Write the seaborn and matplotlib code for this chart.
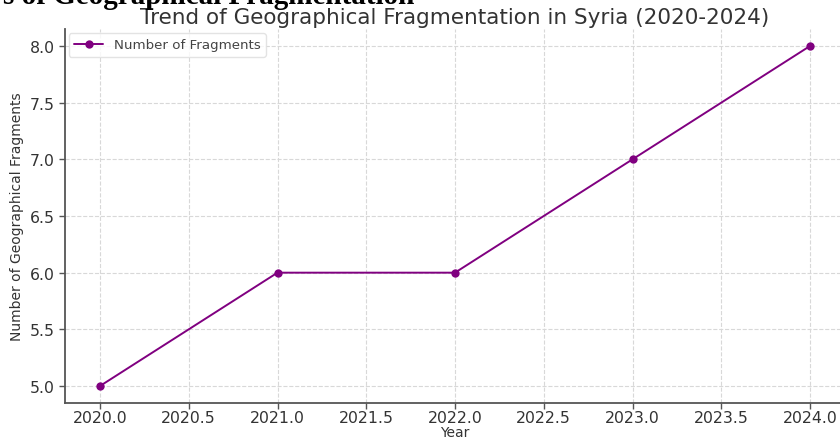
import matplotlib
matplotlib.use('Agg')
import matplotlib.pyplot as plt
import pandas as pd
import seaborn as sns

# Data
years = [2020, 2021, 2022, 2023, 2024]
fragments = [5, 6, 6, 7, 8]
series_label = "Number of Fragments"
title = "Trend of Geographical Fragmentation in Syria (2020-2024)"
header = "s of Geographical Fragmentation"

df = pd.DataFrame({"Year": years, "Fragments": fragments})

sns.set_theme(style="ticks")
plt.rcParams['font.family'] = ['DejaVu Sans']

W, H = 840, 439
fig = plt.figure(figsize=(W / 100, H / 100), dpi=100)
ax = fig.add_axes([64.5 / W, 35 / H, (845.5 - 64.5) / W, (404 - 30) / H])

sns.lineplot(data=df, x="Year", y="Fragments", ax=ax, color="#800080",
             marker="o", markersize=6, markeredgewidth=0, linewidth=1.4,
             label=series_label)

ax.set_xlim(2019.8, 2024.2)
ax.set_ylim(4.85, 8.15)
ax.set_xticks([2020 + 0.5 * i for i in range(9)])
ax.set_yticks([5 + 0.5 * i for i in range(7)])
ax.set_xticklabels([f"{2020 + 0.5 * i:.1f}" for i in range(9)])
ax.set_yticklabels([f"{5 + 0.5 * i:.1f}" for i in range(7)])

ax.grid(True, linestyle="--", color="#d8d8d8", linewidth=0.8)
ax.set_axisbelow(True)
for side in ["top", "right"]:
    ax.spines[side].set_visible(False)
for side in ["left", "bottom"]:
    ax.spines[side].set_color("#555555")
    ax.spines[side].set_linewidth(1.3)
ax.tick_params(axis="both", colors="#555555", labelcolor="#333333",
               labelsize=11.3, length=4, width=1)
ax.tick_params(axis="x", pad=1)
ax.tick_params(axis="y", pad=3)

ax.set_title(title, fontsize=15.5, color="#333333", pad=4)
ax.set_xlabel("Year", fontsize=10, color="#333333", labelpad=0)
ax.set_ylabel("Number of Geographical Fragments", fontsize=10,
              color="#333333", labelpad=4)

leg = ax.legend(loc="upper left", fontsize=9.6, frameon=True,
                borderaxespad=0.3, handlelength=2.2)
leg.get_frame().set_edgecolor("#dddddd")
for t in leg.get_texts():
    t.set_color("#444444")

# cropped page header above the chart
fig.text(414 / W, 1 - 4 / H, header, ha="right", va="baseline",
         fontsize=21, fontweight="bold", color="black",
         family=["Liberation Serif", "DejaVu Serif"])

fig.savefig("out.png", dpi=100)
